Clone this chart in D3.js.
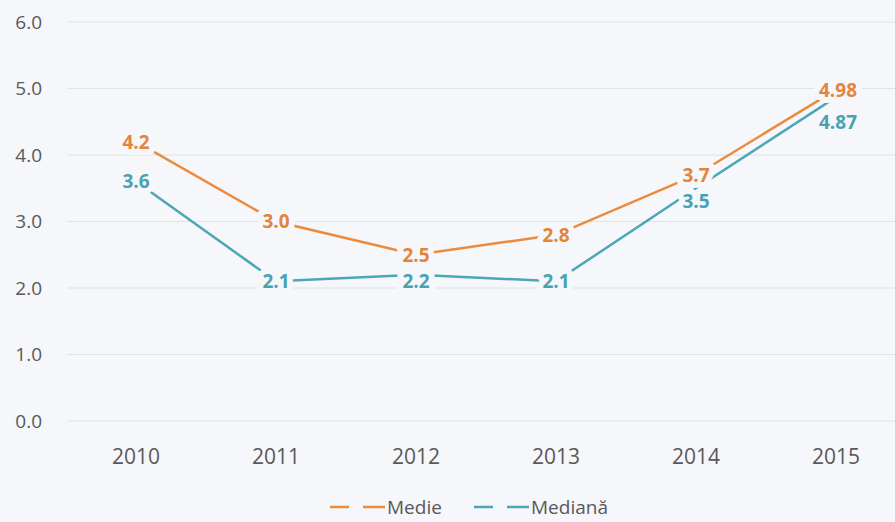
<!DOCTYPE html>
<html>
<head>
<meta charset="utf-8">
<script src="https://cdn.jsdelivr.net/npm/d3@7"></script>
<style>
  body { margin: 0; background: #f5f7fa; }
  svg { display: block; font-family: "Open Sans", sans-serif; }
</style>
</head>
<body>
<div id="root"></div>
<script>
// chart data
var years = ["2010", "2011", "2012", "2013", "2014", "2015"]
var medie = [4.2, 3.0, 2.5, 2.8, 3.7, 4.98]
var mediana = [3.6, 2.1, 2.2, 2.1, 3.5, 4.87]
var medieLabels = ["4.2", "3.0", "2.5", "2.8", "3.7", "4.98"]
var medianaLabels = ["3.6", "2.1", "2.2", "2.1", "3.5", "4.87"]
var yTicks = [0, 1, 2, 3, 4, 5, 6]
var seriesNames = ["Medie", "Mediană"]

var W = 895, H = 522
var bg = "#f5f7fa"
var colors = ["#ec8b3d", "#4ba7b6"]
var labelColors = ["#e4843a", "#47a2b2"]

var svg = d3.select("#root")
            .append("svg")
            .attr("width", W)
            .attr("height", H)

var x = d3.scalePoint()
          .domain(years)
          .range([136, 836])

var y = d3.scaleLinear()
          .domain([0, 6])
          .range([421, 22])

// gridlines
svg.selectAll(".grid")
    .data(yTicks)
    .enter()
    .append("line")
      .attr("x1", 67)
      .attr("x2", W)
      .attr("y1", function(d){ return y(d) })
      .attr("y2", function(d){ return y(d) })
      .attr("stroke", "#e1e2e4")
      .attr("stroke-width", 1.2)

// y axis labels
svg.selectAll(".ytick")
    .data(yTicks)
    .enter()
    .append("text")
      .attr("x", 42)
      .attr("y", function(d){ return y(d) })
      .attr("dy", "0.36em")
      .attr("text-anchor", "end")
      .attr("fill", "#595959")
      .style("font-size", "19px")
      .text(function(d){ return d.toFixed(1) })

// x axis labels
svg.selectAll(".xtick")
    .data(years)
    .enter()
    .append("text")
      .attr("x", function(d){ return x(d) })
      .attr("y", 464)
      .attr("text-anchor", "middle")
      .attr("fill", "#595959")
      .style("font-size", "21px")
      .text(function(d){ return d })

var series = [medie, mediana]
var labels = [medieLabels, medianaLabels]

var line = d3.line()
    .x(function(d, i){ return x(years[i]) })
    .y(function(d){ return y(d) })

series.forEach(function(s, k){
  svg.append("path")
      .datum(s)
      .attr("d", line)
      .attr("fill", "none")
      .attr("stroke", colors[k])
      .attr("stroke-width", 2.5)
})

// data labels with a background halo
series.forEach(function(s, k){
  svg.selectAll(".lbl" + k)
      .data(s)
      .enter()
      .append("text")
        .attr("x", function(d, i){ return x(years[i]) + (labels[k][i].length > 3 ? 2 : 0) })
        .attr("y", function(d, i){
          var yy = y(d)
          // push the lower label down when the two series are close
          if (k == 1) yy = Math.max(yy, y(medie[i]) + (i == 5 ? 32 : 26))
          return yy
        })
        .attr("dy", "0.36em")
        .attr("text-anchor", "middle")
        .attr("fill", labelColors[k])
        .attr("stroke", bg)
        .attr("stroke-width", 12)
        .attr("stroke-linejoin", "round")
        .style("paint-order", "stroke")
        .style("font-size", "19px")
        .style("font-weight", "bold")
        .text(function(d, i){ return labels[k][i] })
})

// legend
var legendX = [330, 474]
seriesNames.forEach(function(name, k){
  var g = svg.append("g").attr("transform", "translate(" + legendX[k] + ",507)")
  g.append("line")
    .attr("x1", 0).attr("x2", 55)
    .attr("y1", 0).attr("y2", 0)
    .attr("stroke", colors[k])
    .attr("stroke-width", 2.5)
    .attr("stroke-dasharray", "19,14,22")
  g.append("text")
    .attr("x", 57)
    .attr("y", 0)
    .attr("dy", "0.36em")
    .attr("fill", "#595959")
    .style("font-size", "19px")
    .text(name)
})
</script>
</body>
</html>
